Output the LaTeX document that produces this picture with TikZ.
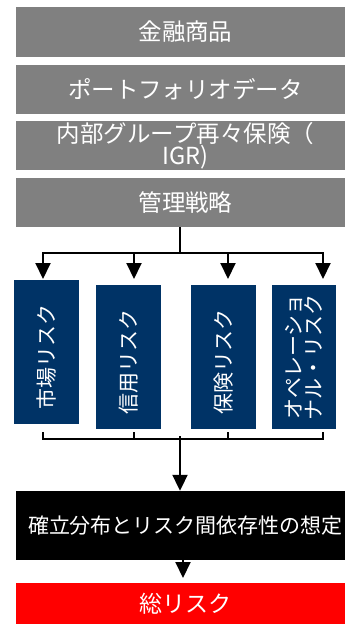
\documentclass[tikz,border=0pt]{standalone}
\usepackage{fontspec}
\setmainfont{Noto Sans CJK JP}
\usetikzlibrary{arrows.meta}
\definecolor{boxgray}{RGB}{128,128,128}
\definecolor{riskblue}{RGB}{0,51,102}
\definecolor{totalred}{RGB}{255,0,0}
\begin{document}
\begin{tikzpicture}[x=1pt,y=-1pt,
  graybox/.style={fill=boxgray, text=white, minimum width=339pt, minimum height=49pt,
    inner sep=0pt, font=\fontsize{23.5}{20}\selectfont, align=center},
  riskbox/.style={fill=riskblue, text=white, rotate=90, minimum width=144pt,
    minimum height=65pt, inner sep=0pt, font=\fontsize{21}{20}\selectfont, align=center},
  line/.style={line width=2pt, black},
  arr/.style={line width=2pt, black, -{Triangle[width=15pt,length=16pt]}}]
\useasboundingbox (0,0) rectangle (345,625);
\clip (0,0) rectangle (345,625);
% top gray boxes
\node[graybox, minimum height=50pt] (g1) at (185.5,32) {金融商品};
\node[graybox] (g2) at (185.5,89.5) {ポートフォリオデータ};
\node[graybox] (g3) at (185.5,145.5) {内部グループ再々保険（\\IGR)};
\node[graybox] (g4) at (185.5,202.5) {管理戦略};
% risk boxes
\node[riskbox] (r1) at (46.5,352) {市場リスク\hspace*{10pt}};
\node[riskbox] (r2) at (128.5,357) {信用リスク\hspace*{10pt}};
\node[riskbox] (r3) at (223.5,357) {保険リスク\hspace*{10pt}};
\node[riskbox, minimum height=64pt] (r4) at (304,357) {オペレーショ\\ナル・リスク};
% bottom boxes
\node[fill=black, text=white, minimum width=339pt, minimum height=69pt, inner sep=0pt,
  font=\fontsize{21}{24}\selectfont] (blk) at (185.5,525.5) {確立分布とリスク間依存性の想定};
\node[fill=totalred, text=white, minimum width=339pt, minimum height=41pt, inner sep=0pt,
  font=\fontsize{23}{24}\selectfont] (tot) at (185.5,603.5) {総リスク};
% split connectors
\coordinate (split) at (180,253);
\coordinate (a1) at (43,279);
\coordinate (a2) at (134,279);
\coordinate (a3) at (228,279);
\coordinate (a4) at (323,279);
\draw[line] (split |- g4.south) -- (split);
\draw[arr] (split) -| (a1);
\draw[arr] (split) -| (a2);
\draw[arr] (split) -| (a3);
\draw[arr] (split) -| (a4);
% join bracket
\coordinate (b1) at (43,432);
\coordinate (b2) at (134,432);
\coordinate (b3) at (228,432);
\coordinate (b4) at (323,432);
\coordinate (join) at (180,439);
\coordinate (j0) at (180,436);
\draw[line] (b1) |- (join) -| (b4);
\draw[line] (b2) -- (b2 |- join);
\draw[line] (b3) -- (b3 |- join);
\draw[arr] (j0) -- (j0 |- blk.north);
% final arrow
\coordinate (k0) at (183,560);
\coordinate (k1) at (183,578);
\draw[arr] (k0 |- blk.south) -- (k1);
\end{tikzpicture}
\end{document}
